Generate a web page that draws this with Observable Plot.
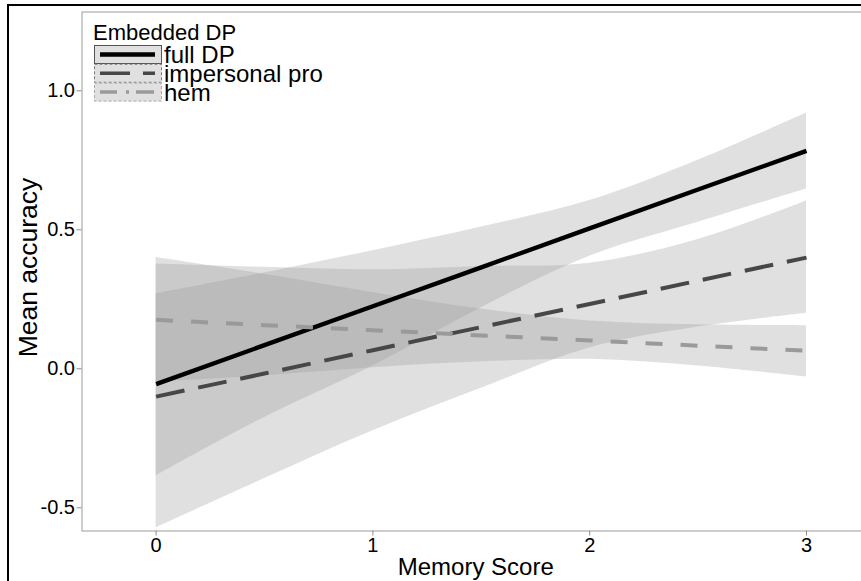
<!DOCTYPE html>
<html>
<head>
<meta charset="utf-8">
<script src="https://cdn.jsdelivr.net/npm/d3@7"></script>
<script src="https://cdn.jsdelivr.net/npm/@observablehq/plot@0.6"></script>
<style>
  html, body { margin: 0; padding: 0; background: #fff; overflow: hidden; }
  #wrap { position: relative; width: 861px; height: 581px; overflow: hidden;
          font-family: "Liberation Sans", Arial, sans-serif; }
  #chart { position: absolute; left: 0; top: 0; }
  #frame { position: absolute; left: 7px; top: 4px; width: 900px; height: 700px;
           border-left: 2px solid #000; border-top: 2px solid #000; pointer-events: none; }
  #legend { position: absolute; left: 0; top: 0; pointer-events: none; }
</style>
</head>
<body>
<div id="wrap">
  <div id="chart"></div>
  <div id="frame"></div>
  <svg id="legend" width="861" height="120"></svg>
</div>
<script>
// Fitted regression of mean accuracy on memory score, with 95% bands, per embedded DP type
const memoryScore = [0, 0.5, 1, 1.5, 2, 2.5, 3];
const groups = ["full DP", "impersonal pro", "hem"];

const fullFit   = [-0.055, 0.085, 0.225, 0.365, 0.505, 0.645, 0.784];
const fullLower = [-0.385, -0.175, 0.010, 0.220, 0.405, 0.527, 0.647];
const fullUpper = [0.270, 0.345, 0.425, 0.510, 0.605, 0.750, 0.920];

const persFit   = [-0.100, -0.017, 0.067, 0.150, 0.233, 0.317, 0.400];
const persLower = [-0.572, -0.395, -0.223, -0.070, 0.075, 0.150, 0.200];
const persUpper = [0.377, 0.365, 0.356, 0.368, 0.380, 0.465, 0.604];

const hemFit    = [0.176, 0.157, 0.139, 0.120, 0.102, 0.083, 0.065];
const hemLower  = [-0.048, -0.025, 0.004, 0.025, 0.034, 0.010, -0.030];
const hemUpper  = [0.400, 0.340, 0.274, 0.215, 0.172, 0.158, 0.155];

const xTicks = [0, 1, 2, 3];
const yTicks = [-0.5, 0, 0.5, 1.0];

// Table built from the arrays above
const series = {
  "full DP":        {fit: fullFit, lower: fullLower, upper: fullUpper},
  "impersonal pro": {fit: persFit, lower: persLower, upper: persUpper},
  "hem":            {fit: hemFit,  lower: hemLower,  upper: hemUpper}
};
const rows = groups.flatMap(g => memoryScore.map((s, i) => ({
  group: g, score: s,
  fit: series[g].fit[i], lower: series[g].lower[i], upper: series[g].upper[i]
})));

// Line appearance per group
const look = {
  "full DP":        {stroke: "#000000", width: 4.4, dash: null},
  "impersonal pro": {stroke: "#474747", width: 4,   dash: "29,14"},
  "hem":            {stroke: "#9a9a9a", width: 4,   dash: "17,18"}
};

const font = "Liberation Sans, Arial, sans-serif";

const chart = Plot.plot({
  width: 861,
  height: 581,
  marginLeft: 81.5,
  marginRight: 0,
  marginTop: 11.5,
  marginBottom: 50.5,
  style: {fontFamily: font, background: "transparent", color: "#000"},
  x: {domain: [-0.3418, 3.2537]},
  y: {domain: [-0.5835, 1.2835]},
  marks: [
    Plot.areaY(rows, {
      x: "score", y1: "lower", y2: "upper", z: "group",
      fill: "#999999", fillOpacity: 0.3, curve: "catmull-rom"
    }),
    ...groups.map(g => Plot.line(rows.filter(d => d.group === g), {
      x: "score", y: "fit",
      stroke: look[g].stroke, strokeWidth: look[g].width,
      strokeDasharray: look[g].dash, strokeLinecap: "butt"
    })),
    Plot.frame({stroke: "#9c9c9c", strokeWidth: 1}),
    Plot.axisX({
      ticks: xTicks, tickSize: 5, tickPadding: 2, fontSize: 20,
      stroke: "#8c8c8c", fill: "#000", label: null, tickFormat: d => String(d)
    }),
    Plot.axisY({
      ticks: yTicks, tickSize: 5, tickPadding: 2, fontSize: 20,
      stroke: "#8c8c8c", fill: "#000", label: null, tickFormat: d => d.toFixed(1)
    }),
    Plot.text(["Memory Score"], {
      text: d => d, frameAnchor: "bottom", textAnchor: "middle", lineAnchor: "middle",
      dx: 4, dy: 36, fontSize: 24, fill: "#000"
    }),
    Plot.text(["Mean accuracy"], {
      text: d => d, frameAnchor: "left", textAnchor: "middle", lineAnchor: "middle",
      dx: -53, dy: -4, rotate: -90, fontSize: 26.5, fill: "#000"
    })
  ]
});
document.getElementById("chart").append(chart);

// Legend: ribbon-filled key boxes with each group's line pattern
const legendTitle = "Embedded DP";
const keyStyle = {
  "full DP":        {border: "#555555", borderDash: null,  line: "#000000", lw: 4.5, dash: null},
  "impersonal pro": {border: "#7a7a7a", borderDash: "3,2", line: "#474747", lw: 3.5, dash: "30,13"},
  "hem":            {border: "#a8a8a8", borderDash: "3,2", line: "#9a9a9a", lw: 3.5, dash: "17,9,3,7,18"}
};
const leg = d3.select("#legend");
leg.append("text")
  .attr("x", 93).attr("y", 40)
  .attr("font-family", font).attr("font-size", 22).attr("fill", "#000")
  .text(legendTitle);
groups.forEach((g, i) => {
  const top = 45.5 + i * 18.8;
  const k = keyStyle[g];
  leg.append("rect")
    .attr("x", 94.5).attr("y", top).attr("width", 67).attr("height", 18)
    .attr("fill", "#e0e0e0").attr("stroke", k.border).attr("stroke-width", 1)
    .attr("stroke-dasharray", k.borderDash);
  leg.append("line")
    .attr("x1", 100).attr("x2", 155).attr("y1", top + 9).attr("y2", top + 9)
    .attr("stroke", k.line).attr("stroke-width", k.lw)
    .attr("stroke-dasharray", k.dash);
  leg.append("text")
    .attr("x", 164).attr("y", top + 17.8)
    .attr("font-family", font).attr("font-size", 24).attr("fill", "#000")
    .text(g);
});
</script>
</body>
</html>
